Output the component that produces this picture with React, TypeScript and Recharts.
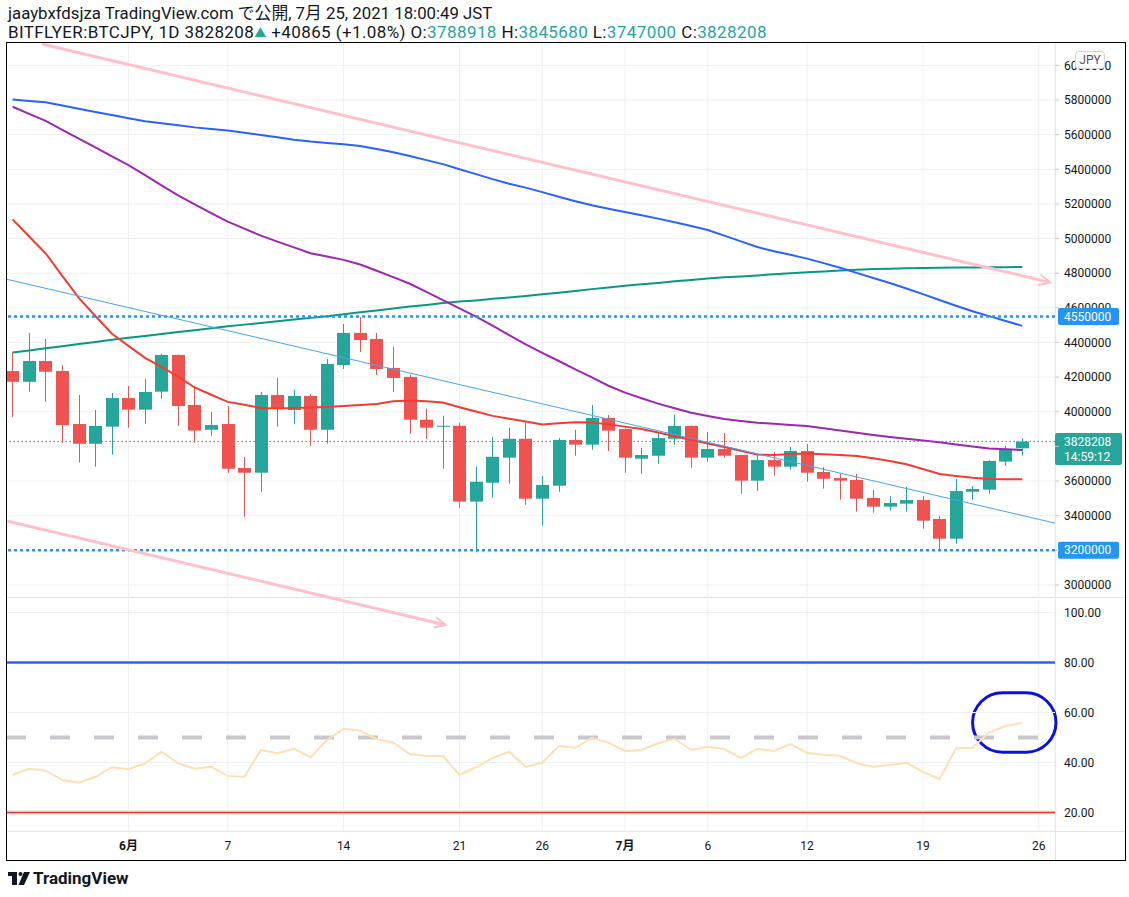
import React from "react";
import {
  ComposedChart,
  Bar,
  Line,
  XAxis,
  YAxis,
  CartesianGrid,
  ReferenceLine,
  ReferenceArea,
} from "recharts";

// BITFLYER:BTCJPY 日足, index 0 = 2021-05-25 ... index 61 = 2021-07-25
const open = [
  4235000, 4173000, 4293000, 4235000, 3929000, 3815000, 3914000, 4079000, 4012000, 4116000,
  4328000, 4039000, 3896000, 3929000, 3675000, 3648000, 4097000, 4010000, 4091000, 3896000,
  4270000, 4455000, 4420000, 4253000, 4201000, 3954000, 3914000, 3919000, 3481000, 3590000,
  3735000, 3844000, 3498000, 3573000, 3837000, 3810000, 3964000, 3900000, 3729000, 3746000,
  3844000, 3918000, 3735000, 3785000, 3750000, 3602000, 3721000, 3683000, 3773000, 3652000,
  3617000, 3606000, 3502000, 3452000, 3469000, 3490000, 3381000, 3267000, 3538000, 3550000,
  3712000, 3788918,
];
const high = [
  4343000, 4455000, 4420000, 4270000, 4097000, 4010000, 4108000, 4149000, 4189000, 4335000,
  4330000, 4149000, 3999000, 4033000, 3739000, 4114000, 4195000, 4126000, 4102000, 4305000,
  4507000, 4547000, 4455000, 4374000, 4212000, 4018000, 3977000, 3937000, 3683000, 3856000,
  3908000, 3937000, 3629000, 3848000, 3895000, 4039000, 3981000, 3905000, 3791000, 3877000,
  3981000, 3920000, 3883000, 3877000, 3752000, 3750000, 3768000, 3796000, 3814000, 3681000,
  3641000, 3641000, 3548000, 3513000, 3565000, 3513000, 3398000, 3612000, 3571000, 3720000,
  3802000, 3845680,
];
const low = [
  3971000, 4116000, 4058000, 3818000, 3706000, 3683000, 3752000, 3908000, 3931000, 4075000,
  3919000, 3821000, 3862000, 3648000, 3394000, 3538000, 3914000, 3931000, 3804000, 3815000,
  4247000, 4345000, 4212000, 4114000, 3873000, 3844000, 3671000, 3446000, 3188000, 3504000,
  3585000, 3463000, 3342000, 3538000, 3746000, 3781000, 3773000, 3648000, 3642000, 3700000,
  3810000, 3677000, 3712000, 3735000, 3527000, 3544000, 3631000, 3665000, 3596000, 3556000,
  3492000, 3423000, 3417000, 3429000, 3423000, 3325000, 3203000, 3238000, 3492000, 3527000,
  3688000, 3747000,
];
const close = [
  4173000, 4293000, 4231000, 3923000, 3815000, 3918000, 4079000, 4012000, 4114000, 4328000,
  4033000, 3891000, 3923000, 3671000, 3648000, 4097000, 4016000, 4091000, 3896000, 4276000,
  4455000, 4414000, 4247000, 4195000, 3954000, 3908000, 3919000, 3481000, 3596000, 3740000,
  3844000, 3498000, 3577000, 3837000, 3810000, 3964000, 3891000, 3735000, 3750000, 3848000,
  3918000, 3735000, 3785000, 3746000, 3602000, 3721000, 3683000, 3773000, 3648000, 3613000,
  3602000, 3498000, 3452000, 3473000, 3490000, 3371000, 3267000, 3542000, 3554000, 3716000,
  3785000, 3828208,
];

// moving averages (red / purple / blue / teal)
const maRed = [
  5111000, 5012000, 4914000, 4784000, 4657000, 4553000, 4450000, 4380000, 4311000, 4259000,
  4203000, 4140000, 4098000, 4057000, 4040000, 4022000, 4018000, 4022000, 4024000, 4028000,
  4033000, 4039000, 4045000, 4061000, 4065000, 4061000, 4053000, 4026000, 4001000, 3976000,
  3959000, 3944000, 3927000, 3933000, 3939000, 3938000, 3927000, 3914000, 3900000, 3880000,
  3859000, 3838000, 3817000, 3796000, 3775000, 3753000, 3750000, 3756000, 3759000, 3755000,
  3750000, 3744000, 3731000, 3716000, 3697000, 3669000, 3641000, 3629000, 3619000, 3612000,
  3610000, 3610000,
];
const maPurple = [
  5761000, 5720000, 5680000, 5628000, 5577000, 5526000, 5475000, 5424000, 5366000, 5307000,
  5250000, 5197000, 5147000, 5098000, 5057000, 5017000, 4982000, 4949000, 4915000, 4896000,
  4877000, 4850000, 4814000, 4777000, 4739000, 4692000, 4645000, 4597000, 4549000, 4497000,
  4443000, 4389000, 4340000, 4293000, 4245000, 4198000, 4150000, 4110000, 4078000, 4047000,
  4020000, 3994000, 3975000, 3958000, 3947000, 3937000, 3930000, 3923000, 3918000, 3904000,
  3892000, 3878000, 3865000, 3854000, 3844000, 3834000, 3824000, 3811000, 3799000, 3788000,
  3783000, 3779000,
];
const maBlue = [
  5803000, 5795000, 5787000, 5768000, 5749000, 5731000, 5713000, 5695000, 5678000, 5666000,
  5654000, 5642000, 5633000, 5624000, 5611000, 5598000, 5585000, 5571000, 5560000, 5552000,
  5545000, 5534000, 5517000, 5498000, 5477000, 5453000, 5430000, 5400000, 5372000, 5343000,
  5316000, 5294000, 5268000, 5241000, 5215000, 5192000, 5172000, 5153000, 5134000, 5115000,
  5094000, 5072000, 5049000, 5017000, 4984000, 4951000, 4927000, 4906000, 4884000, 4858000,
  4831000, 4802000, 4772000, 4743000, 4712000, 4679000, 4645000, 4612000, 4580000, 4552000,
  4524000, 4496000,
];
const maTeal = [
  4342000, 4354000, 4366000, 4378000, 4391000, 4403000, 4415000, 4427000, 4438000, 4449000,
  4460000, 4471000, 4482000, 4493000, 4503000, 4512000, 4522000, 4533000, 4542000, 4552000,
  4563000, 4574000, 4585000, 4596000, 4607000, 4617000, 4628000, 4636000, 4643000, 4652000,
  4659000, 4668000, 4678000, 4687000, 4697000, 4708000, 4717000, 4727000, 4736000, 4744000,
  4753000, 4761000, 4770000, 4776000, 4781000, 4787000, 4794000, 4799000, 4806000, 4810000,
  4816000, 4820000, 4824000, 4826000, 4828000, 4830000, 4832000, 4833000, 4833000, 4834000,
  4835000, 4836000,
];
const rsi = [
  35.1, 37.5, 36.7, 33.0, 31.9, 34.3, 38.1, 37.3, 39.7, 44.3,
  39.7, 37.5, 38.3, 34.6, 34.3, 45.0, 43.7, 45.5, 42.1, 49.0,
  53.5, 52.7, 49.3, 47.9, 43.4, 42.6, 42.6, 35.1, 38.1, 41.8,
  44.3, 38.3, 39.9, 46.6, 45.9, 49.9, 47.9, 44.6, 45.0, 47.7,
  49.5, 45.0, 46.3, 45.4, 41.8, 45.5, 44.6, 47.4, 43.9, 43.0,
  42.7, 39.7, 38.3, 39.0, 39.9, 36.3, 33.3, 45.7, 45.9, 52.1,
  54.6, 55.9,
];

const tickDays = [7, 13, 20, 27, 32, 37, 42, 48, 55, 62];
const tickLabels = ["6月", "7", "14", "21", "26", "7月", "6", "12", "19", "26"];
const priceTicks = [
  3000000, 3200000, 3400000, 3600000, 3800000, 4000000, 4200000, 4400000,
  4600000, 4800000, 5000000, 5200000, 5400000, 5600000, 5800000, 6000000,
];

// drawings: [day, price]
const upperTrend = [[1.77, 6123000], [62.68, 4747000]];
const lowerTrend = [[-0.34, 3369000], [26.16, 2769000]];
const midTrend = [[-0.36, 4765000], [62.98, 3357000]];
const resistance = 4550000;
const support = 3200000;
const lastPrice = 3828208;

const UP = "#26a69a";
const DOWN = "#ef5350";
const FONT = "Roboto, 'Noto Sans CJK JP', sans-serif";
const TEXT = "#131722";

const PRICE_DOMAIN = [1579000, 6135000];
const PLOT_H = 789;
const pxPerYen = PLOT_H / (PRICE_DOMAIN[1] - PRICE_DOMAIN[0]);
// price tags on the axis: [level, box top, box bottom] (px relative to the level)
const tags: [number, number, number][] = [
  [resistance, -8.5, 8.5],
  [support, -8.5, 8.5],
  [lastPrice, -8.5, 23.5],
];

const rows = close.map((c, i) => ({
  i,
  o: open[i],
  h: high[i],
  l: low[i],
  c,
  range: [low[i], high[i]],
  maRed: maRed[i],
  maPurple: maPurple[i],
  maBlue: maBlue[i],
  maTeal: maTeal[i],
  rsi: rsi[i],
}));

function Candle(props: any) {
  const { x, y, width, height, payload } = props;
  if (!payload || height == null) return null;
  const { o, h, l, c } = payload;
  const color = c >= o ? UP : DOWN;
  const top = Math.min(y, y + height);
  const span = Math.abs(height);
  const k = h - l > 0 ? span / (h - l) : 0;
  const yO = top + (h - o) * k;
  const yC = top + (h - c) * k;
  const bx = Math.round(x);
  const bw = Math.round(width);
  const wx = bx + Math.floor(bw / 2) + 0.5;
  return (
    <g>
      <line x1={wx} x2={wx} y1={top} y2={top + span} stroke={color} strokeWidth={1} />
      <rect x={bx} y={Math.min(yO, yC)} width={bw} height={Math.max(1, Math.abs(yO - yC))} fill={color} />
    </g>
  );
}

function DayTick(props: any) {
  const { x, y, payload } = props;
  const label = tickLabels[tickDays.indexOf(payload.value)] ?? "";
  return (
    <text x={x} y={y} dy="0.71em" textAnchor="middle" fontSize={12} fill={TEXT}
      fontWeight={label.includes("月") ? 700 : 400} fontFamily={FONT}>
      {label}
    </text>
  );
}

// axis label, hidden where a price tag sits on top of it
function PriceTick(props: any) {
  const { x, y, payload } = props;
  const v = payload.value;
  let visTop = -8;
  let visBottom = 8;
  for (const [level, t, b] of tags) {
    const d = (v - level) * pxPerYen;
    const bt = d + t;
    const bb = d + b;
    if (bt <= visTop && bb >= visBottom) return null;
    if (bt > visTop && bt < visBottom) visBottom = bt;
    if (bb > visTop && bb < visBottom && bt <= visTop) visTop = bb;
  }
  const id = `ptick-${v}`;
  return (
    <g>
      <defs>
        <clipPath id={id}>
          <rect x={x - 2} y={y + visTop} width={70} height={visBottom - visTop} />
        </clipPath>
      </defs>
      <text x={x} y={y} dy="0.355em" textAnchor="start" fontSize={12} fill={TEXT} fontFamily={FONT} clipPath={`url(#${id})`}>
        {v}
      </text>
    </g>
  );
}

const tag = (text: string, bg: string, sub?: string) => (p: any) => {
  const vb = p.viewBox || {};
  const x = (vb.x ?? 0) + (vb.width ?? 0);
  const y = vb.y ?? 0;
  return (
    <g>
      <rect x={sub ? x : x + 3} y={y - 8.5} width={sub ? 67 : 61} height={sub ? 32 : 17} rx={2} fill={bg} />
      <text x={x + 9} y={y} dy="0.35em" fontSize={12} fill="#fff" fontFamily={FONT}>{text}</text>
      {sub && (
        <text x={x + 9} y={y + 15} dy="0.35em" fontSize={12} fill="#fff" fontFamily={FONT}>{sub}</text>
      )}
    </g>
  );
};

const arrow = (color: string, w: number, head: boolean) => (p: any) => {
  const { x1, y1, x2, y2 } = p;
  const a = Math.atan2(y2 - y1, x2 - x1);
  const L = 12;
  const s = 0.45;
  return (
    <g>
      <line x1={x1} y1={y1} x2={x2} y2={y2} stroke={color} strokeWidth={w} />
      {head && (
        <polyline
          points={`${x2 - L * Math.cos(a - s)},${y2 - L * Math.sin(a - s)} ${x2},${y2} ${x2 - L * Math.cos(a + s)},${y2 - L * Math.sin(a + s)}`}
          fill="none" stroke={color} strokeWidth={2}
        />
      )}
    </g>
  );
};

const rsiLabel = (v: string) => ({ value: v, position: "right" as const, offset: 9, fill: TEXT, fontSize: 12 });

const seg = (t: number[][]) => [{ x: t[0][0], y: t[0][1] }, { x: t[1][0], y: t[1][1] }];

export default function App() {
  return (
    <div style={{ position: "relative", width: 1129, height: 897, background: "#fff", fontFamily: FONT, color: TEXT, overflow: "hidden" }}>
      <style>{"body{margin:0}"}</style>

      <div style={{ position: "absolute", left: 8, top: 3, fontSize: 16.8, lineHeight: "20px", whiteSpace: "nowrap" }}>
        jaaybxfdsjza TradingView.com で公開, 7月 25, 2021 18:00:49 JST
      </div>
      <div style={{ position: "absolute", left: 8, top: 22, fontSize: 17, letterSpacing: 0.4, lineHeight: "20px", whiteSpace: "nowrap" }}>
        BITFLYER:BTCJPY, 1D 3828208<span style={{ color: UP, fontSize: 12 }}>▲</span> +40865 (+1.08%) O:
        <span style={{ color: UP }}>3788918</span> H:<span style={{ color: UP }}>3845680</span> L:
        <span style={{ color: UP }}>3747000</span> C:<span style={{ color: UP }}>3828208</span>
      </div>

      {/* pane separators */}
      <div style={{ position: "absolute", left: 6, top: 597, width: 1120, height: 1, background: "#e0e3eb" }} />
      <div style={{ position: "absolute", left: 1055, top: 42, width: 1, height: 819, background: "#e0e3eb" }} />
      <div style={{ position: "absolute", left: 6, top: 831, width: 1120, height: 1, background: "#e0e3eb" }} />

      <div style={{ position: "absolute", left: 6, top: 42 }}>
        <ComposedChart width={1120} height={819} data={rows} margin={{ top: 0, right: 0, bottom: 0, left: 0 }}>
          <CartesianGrid yAxisId="price" stroke="#eef0f3" />
          <XAxis dataKey="i" type="number" domain={[-0.4, 62.98]} ticks={tickDays} allowDataOverflow
            height={30} axisLine={false} tickLine={false} tickMargin={4} tick={<DayTick />} />
          <YAxis yAxisId="price" orientation="right" width={71} domain={PRICE_DOMAIN} ticks={priceTicks}
            allowDataOverflow axisLine={false} tickSize={4} tickMargin={5}
            tickLine={{ stroke: "#c5c8d0" }} tick={<PriceTick />} />
          <YAxis yAxisId="rsi" hide domain={[12.6, 328.2]} allowDataOverflow />

          {/* RSI pane */}
          <ReferenceLine yAxisId="rsi" y={100} stroke="#eef0f3" label={rsiLabel("100.00")} />
          <ReferenceLine yAxisId="rsi" y={60} stroke="#eef0f3" label={rsiLabel("60.00")} />
          <ReferenceLine yAxisId="rsi" y={40} stroke="#eef0f3" label={rsiLabel("40.00")} />
          <ReferenceLine yAxisId="rsi" y={80} stroke="#2962ff" strokeWidth={2.5} label={rsiLabel("80.00")} />
          <ReferenceLine yAxisId="rsi" y={20} stroke="#f6b4b4" strokeWidth={3.5} />
          <ReferenceLine yAxisId="rsi" y={20} stroke="#e53935" strokeWidth={1} label={rsiLabel("20.00")} />
          <ReferenceLine yAxisId="rsi" y={50} stroke="#c8c8cc" strokeWidth={4} strokeDasharray="20 24" />
          <Line yAxisId="rsi" dataKey="rsi" stroke="#ffe0b2" strokeWidth={2} dot={false} isAnimationActive={false} />

          {/* price pane */}
          <Bar yAxisId="price" dataKey="range" barSize={13} shape={(p: any) => <Candle {...p} />} isAnimationActive={false} />
          <Line yAxisId="price" dataKey="maTeal" stroke="#089981" strokeWidth={2} dot={false} isAnimationActive={false} />
          <Line yAxisId="price" dataKey="maBlue" stroke="#2962ff" strokeWidth={2} dot={false} isAnimationActive={false} />
          <Line yAxisId="price" dataKey="maPurple" stroke="#9c27b0" strokeWidth={2} dot={false} isAnimationActive={false} />
          <Line yAxisId="price" dataKey="maRed" stroke="#f23c2f" strokeWidth={2} dot={false} isAnimationActive={false} />

          <ReferenceLine yAxisId="price" y={resistance} stroke="#2196f3" strokeWidth={2.5} strokeDasharray="3 3"
            label={tag("4550000", "#2196f3")} />
          <ReferenceLine yAxisId="price" y={support} stroke="#2196f3" strokeWidth={2.5} strokeDasharray="3 3"
            label={tag("3200000", "#2196f3")} />
          <ReferenceLine yAxisId="price" y={lastPrice} stroke="#26a69a" strokeWidth={1} strokeDasharray="1.5 2.5"
            label={tag("3828208", "#26a69a", "14:59:12")} />

          <ReferenceLine yAxisId="price" segment={seg(midTrend)} ifOverflow="visible" stroke="#4aa3f0" strokeWidth={1} />
          <ReferenceLine yAxisId="price" segment={seg(upperTrend)} ifOverflow="visible" shape={arrow("#ffc0cb", 3, true)} />
          <ReferenceLine yAxisId="price" segment={seg(lowerTrend)} ifOverflow="visible" shape={arrow("#ffc0cb", 3, true)} />

          <ReferenceArea yAxisId="rsi" x1={58.0} x2={63.04} y1={44.1} y2={67.9} ifOverflow="visible"
            shape={(p: any) => (
              <rect x={p.x} y={p.y} width={p.width} height={p.height} rx={30} ry={30} fill="none" stroke="#0a10e0" strokeWidth={3} />
            )} />
        </ComposedChart>
      </div>

      {/* frame */}
      <div style={{ position: "absolute", left: 6, top: 42, width: 1120, height: 819, border: "1px solid #000", boxSizing: "border-box", pointerEvents: "none" }} />

      <div style={{ position: "absolute", left: 1075, top: 51, width: 28, height: 16, border: "1px solid #d1d4dc", borderRadius: 4, background: "#fff", fontSize: 12, lineHeight: "16px", textAlign: "center", color: "#50535e" }}>
        JPY
      </div>

      {/* logo */}
      <svg style={{ position: "absolute", left: 8, top: 872 }} width={22} height={13} viewBox="0 0 22 13">
        <rect x={0} y={0} width={9} height={4} fill={TEXT} />
        <rect x={4} y={0} width={5} height={13} fill={TEXT} />
        <circle cx={12.5} cy={2} r={2} fill={TEXT} />
        <polygon points="16,0 22,0 16,13 10.5,13" fill={TEXT} />
      </svg>
      <div style={{ position: "absolute", left: 33, top: 868, fontSize: 17, fontWeight: 700, lineHeight: "20px", color: TEXT }}>
        TradingView
      </div>
    </div>
  );
}
